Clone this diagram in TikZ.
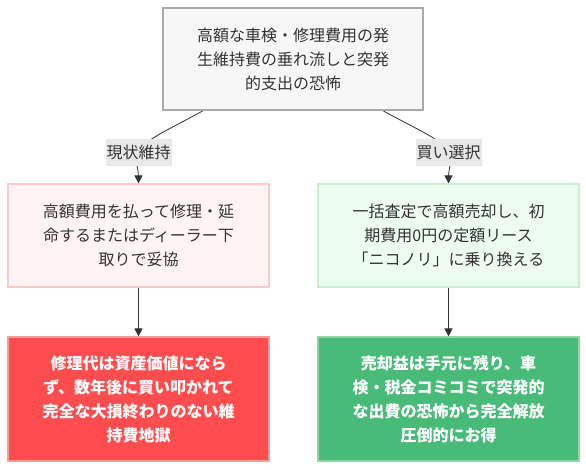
\documentclass[tikz,border=0pt]{standalone}
\usepackage{fontspec}
\setmainfont{Noto Sans CJK JP}
\usetikzlibrary{arrows.meta,backgrounds}
\definecolor{txt}{HTML}{333333}
\definecolor{topfill}{HTML}{F7F7F7}
\definecolor{topdraw}{HTML}{AAAAAA}
\definecolor{pinkfill}{HTML}{FFF3F3}
\definecolor{pinkdraw}{HTML}{FFC9C9}
\definecolor{mintfill}{HTML}{EDFCF0}
\definecolor{mintdraw}{HTML}{C6F0CF}
\definecolor{redfill}{HTML}{FF4D4F}
\definecolor{reddraw}{HTML}{FF9A9A}
\definecolor{grnfill}{HTML}{48BB78}
\definecolor{grndraw}{HTML}{8FD5A6}
\definecolor{lblfill}{HTML}{E8E8E8}
\tikzset{
  box/.style={rectangle, align=center, text=txt, font=\fontsize{16}{24}\selectfont, inner sep=0pt},
  topbox/.style={box, fill=topfill, draw=topdraw, line width=1.5pt, minimum width=260pt, minimum height=102pt},
  midbox/.style={box, minimum width=261pt, minimum height=103pt, line width=1.2pt},
  botbox/.style={box, minimum width=261pt, minimum height=124pt, line width=1.2pt, text=white, font=\fontsize{16}{24}\selectfont\bfseries},
  lbl/.style={rectangle, fill=lblfill, text=txt, font=\fontsize{16}{20}\selectfont, inner xsep=1pt, minimum height=27pt},
  edge/.style={draw=txt, line width=0.8pt, -{Triangle[length=8pt,width=8pt]}}
}
\begin{document}
\begin{tikzpicture}[x=1pt,y=-1pt]
\useasboundingbox (0,0) rectangle (586,470);
\node[topbox] (top) at (293,59) {高額な車検・修理費用の発\\生維持費の垂れ流しと突発\\的支出の恐怖};
\node[midbox, fill=pinkfill, draw=pinkdraw] (lm) at (138.5,235.5) {高額費用を払って修理・延\\命するまたはディーラー下\\取りで妥協};
\node[midbox, fill=mintfill, draw=mintdraw] (rm) at (448.5,235.5) {一括査定で高額売却し、初\\期費用0円の定額リース\\「ニコノリ」に乗り換える};
\node[botbox, fill=redfill, draw=reddraw] (lb) at (138.5,399) {修理代は資産価値になら\\ず、数年後に買い叩かれて\\完全な大損終わりのない維\\持費地獄};
\node[botbox, fill=grnfill, draw=grndraw] (rb) at (448.5,399) {売却益は手元に残り、車\\検・税金コミコミで突発的\\な出費の恐怖から完全解放\\圧倒的にお得};
\node[lbl] (l1) at (138.5,152.5) {現状維持};
\node[lbl] (l2) at (448.5,152.5) {買い選択};
\begin{scope}[on background layer]
\draw[edge] ([xshift=-90pt]top.south) .. controls +(-40,22) and +(8,-14) .. (l1.center) .. controls +(-4,10) and +(0,-14) .. (lm.north);
\draw[edge] ([xshift=90pt]top.south) .. controls +(40,22) and +(-8,-14) .. (l2.center) .. controls +(4,10) and +(0,-14) .. (rm.north);
\end{scope}
\draw[edge] (lm.south) -- (lb.north);
\draw[edge] (rm.south) -- (rb.north);
\end{tikzpicture}
\end{document}
